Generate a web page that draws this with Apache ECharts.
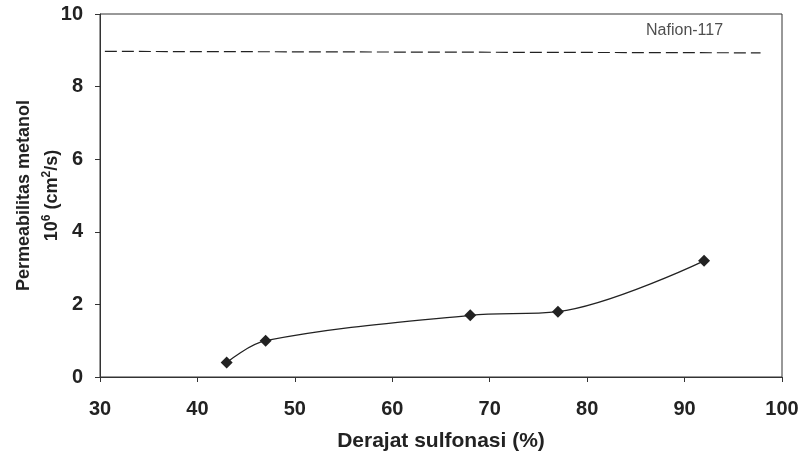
<!DOCTYPE html>
<html>
<head>
<meta charset="utf-8">
<script src="https://cdn.jsdelivr.net/npm/echarts@6/dist/echarts.min.js"></script>
<style>html,body{margin:0;padding:0;background:#fff;}#c{width:802px;height:461px;}</style>
</head>
<body>
<div id="c"></div>
<script>
var sulfonationX = [43, 47, 68, 77, 92];
var permeability = [0.4, 1.0, 1.7, 1.8, 3.2];
var nafionX = [30.5, 97.8];
var nafionY = [8.97, 8.93];
var nafionLabel = 'Nafion-117';
var nafionLabelPos = [90, 9.55];
var xTicks = [30, 40, 50, 60, 70, 80, 90, 100];
var yTicks = [0, 2, 4, 6, 8, 10];

var chart = echarts.init(document.getElementById('c'));
var font = '"Liberation Sans", Arial, sans-serif';
chart.setOption({
  animation: false,
  backgroundColor: '#fff',
  grid: {left: 100, right: 20, top: 14, bottom: 84, show: true, borderColor: '#333', borderWidth: 1, outerBoundsMode: 'none', containLabel: false},
  xAxis: {
    type: 'value', min: xTicks[0], max: xTicks[xTicks.length - 1], interval: 10,
    axisLine: {lineStyle: {color: '#333', width: 1}},
    axisTick: {show: true, length: 5, lineStyle: {color: '#333'}},
    splitLine: {show: false},
    axisLabel: {fontFamily: font, fontWeight: 'bold', fontSize: 20, color: '#222', margin: 22},
    name: 'Derajat sulfonasi (%)', nameLocation: 'middle', nameGap: 54, nameMoveOverlap: false,
    nameTextStyle: {fontFamily: font, fontWeight: 'bold', fontSize: 21, color: '#222'}
  },
  yAxis: {
    type: 'value', min: yTicks[0], max: yTicks[yTicks.length - 1], interval: 2,
    axisLine: {show: true, lineStyle: {color: '#333', width: 1}},
    axisTick: {show: true, length: 5, lineStyle: {color: '#333'}},
    splitLine: {show: false},
    axisLabel: {fontFamily: font, fontWeight: 'bold', fontSize: 20, color: '#222', margin: 17},
    name: '{t|Permeabilitas metanol}\n{t|10}{s|6}{t| (cm}{s|2}{t|/s)}',
    nameLocation: 'middle', nameGap: 34, nameRotate: 90, nameMoveOverlap: false,
    nameTextStyle: {
      fontFamily: font, fontWeight: 'bold', fontSize: 18, color: '#222', lineHeight: 28,
      rich: {
        t: {fontFamily: font, fontWeight: 'bold', fontSize: 18, color: '#222', lineHeight: 28},
        s: {fontFamily: font, fontWeight: 'bold', fontSize: 12, color: '#222', padding: [0, 0, 10, 0], lineHeight: 28}
      }
    }
  },
  series: [
    {
      type: 'line', smooth: 0.35,
      data: sulfonationX.map(function (x, i) { return [x, permeability[i]]; }),
      symbol: 'diamond', symbolSize: 12,
      itemStyle: {color: '#222'},
      lineStyle: {color: '#222', width: 1.3}
    },
    {
      type: 'line',
      data: nafionX.map(function (x, i) { return [x, nafionY[i]]; }),
      symbol: 'none',
      lineStyle: {color: '#222', width: 1.2, type: [12, 5]}
    },
    {
      type: 'scatter', symbolSize: 0,
      data: [nafionLabelPos],
      label: {show: true, position: 'inside', formatter: nafionLabel, fontFamily: font, fontSize: 16, color: '#222'}
    }
  ]
});
</script>
</body>
</html>
